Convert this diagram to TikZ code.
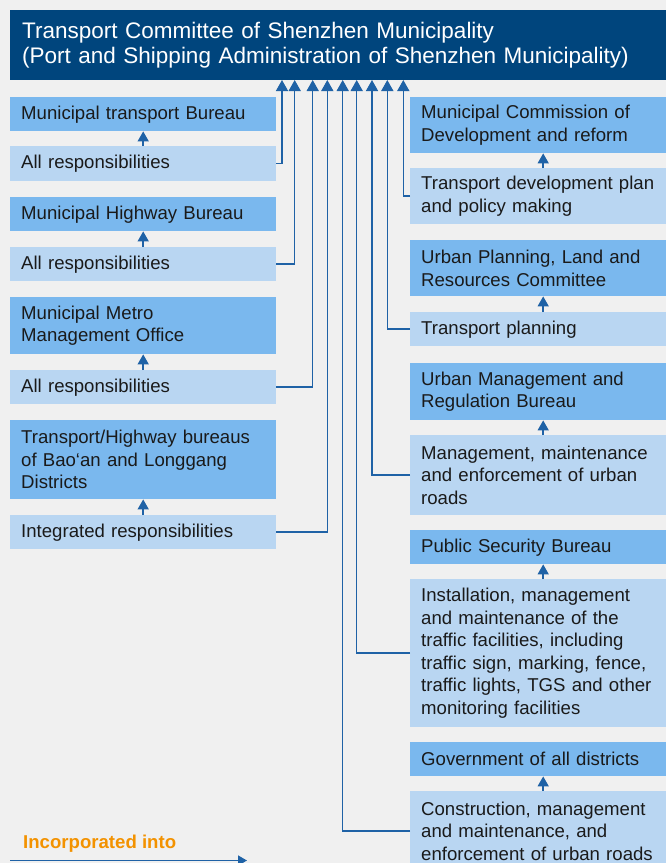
\documentclass[tikz,border=0pt]{standalone}
\usepackage{fontspec}
\setmainfont{Liberation Sans}
\usetikzlibrary{arrows.meta}
\definecolor{bg}{HTML}{F0F0F0}
\definecolor{hdrblue}{HTML}{00457D}
\definecolor{midblue}{HTML}{7AB8EE}
\definecolor{lightblue}{HTML}{B9D6F2}
\definecolor{lineblue}{HTML}{1F62A6}
\definecolor{txt}{HTML}{1A1A1A}
\definecolor{orangetxt}{HTML}{F39200}
\tikzset{
  x=1pt, y=-1pt,
  basebox/.style={anchor=north west, inner xsep=11pt, inner ysep=0pt,
    minimum width=266pt, text width=244pt, align=left, text=txt,
    font=\fontsize{18.6}{22.5}\selectfont},
  orgbox/.style={basebox, fill=midblue},
  dutybox/.style={basebox, fill=lightblue},
  conn/.style={draw=lineblue, line width=1.5pt, -{Triangle[width=12pt,length=11pt]}},
  smallarr/.style={draw=lineblue, line width=1.5pt, -{Triangle[width=11pt,length=10pt]}},
}
\begin{document}
\begin{tikzpicture}
\useasboundingbox (0,0) rectangle (666,863);
\clip (0,0) rectangle (666,863);
\fill[bg] (0,0) rectangle (666,863);
% header
\node[anchor=north west, fill=hdrblue, minimum width=670pt, minimum height=70pt,
  inner xsep=12pt, inner ysep=0pt, text width=646pt, align=left, text=white,
  font=\fontsize{22.5}{25}\selectfont] (hdr) at (10,10)
  {Transport Committee of Shenzhen Municipality\\(Port and Shipping Administration of Shenzhen Municipality)};
% left column
\node[orgbox, minimum height=34pt] (mtb) at (10,97) {Municipal transport Bureau};
\node[dutybox, minimum height=35pt] (ar1) at (10,146) {All responsibilities};
\node[orgbox, minimum height=34pt] (mhb) at (10,197) {Municipal Highway Bureau};
\node[dutybox, minimum height=34pt] (ar2) at (10,247) {All responsibilities};
\node[orgbox, minimum height=57pt] (mmo) at (10,297) {Municipal Metro\\Management Office};
\node[dutybox, minimum height=34pt] (ar3) at (10,370) {All responsibilities};
\node[orgbox, minimum height=79pt] (thb) at (10,420) {Transport/Highway bureaus\\of Bao‘an and Longgang\\Districts};
\node[dutybox, minimum height=34pt] (ir) at (10,515) {Integrated responsibilities};
% right column
\node[orgbox, minimum height=56pt] (mcd) at (410,97) {Municipal Commission of\\Development and reform};
\node[dutybox, minimum height=56pt] (tdp) at (410,168) {Transport development plan\\and policy making};
\node[orgbox, minimum height=56pt] (upl) at (410,240) {Urban Planning, Land and\\Resources Committee};
\node[dutybox, minimum height=34pt] (tp) at (410,312) {Transport planning};
\node[orgbox, minimum height=57pt] (umr) at (410,363) {Urban Management and\\Regulation Bureau};
\node[dutybox, minimum height=80pt] (mme) at (410,435) {Management, maintenance\\and enforcement of urban\\roads};
\node[orgbox, minimum height=34pt] (psb) at (410,530) {Public Security Bureau};
\node[dutybox, minimum height=148pt] (inst) at (410,579) {Installation, management\\and maintenance of the\\traffic facilities, including\\traffic sign, marking, fence,\\traffic lights, TGS and other\\monitoring facilities};
\node[orgbox, minimum height=34pt] (gov) at (410,742) {Government of all districts};
\node[dutybox, minimum height=80pt] (cons) at (410,791) {Construction, management\\and maintenance, and\\enforcement of urban roads};
% small arrows
\draw[smallarr] (ar1.north) -- (mtb.south);
\draw[smallarr] (ar2.north) -- (mhb.south);
\draw[smallarr] (ar3.north) -- (mmo.south);
\draw[smallarr] (ir.north) -- (thb.south);
\draw[smallarr] (tdp.north) -- (mcd.south);
\draw[smallarr] (tp.north) -- (upl.south);
\draw[smallarr] (mme.north) -- (umr.south);
\draw[smallarr] (inst.north) -- (psb.south);
\draw[smallarr] (cons.north) -- (gov.south);
% top targets
\coordinate (t1) at (282,80);
\coordinate (t2) at (294.7,80);
\coordinate (t3) at (312.7,80);
\coordinate (t4) at (327.3,80);
\coordinate (t5) at (342.7,80);
\coordinate (t6) at (356.7,80);
\coordinate (t7) at (372,80);
\coordinate (t8) at (387.3,80);
\coordinate (t9) at (403.3,80);
\draw[conn] (ar1.east) -| (t1);
\draw[conn] (ar2.east) -| (t2);
\draw[conn] (ar3.east) -| (t3);
\draw[conn] (ir.east) -| (t4);
\draw[conn] (cons.west) -| (t5);
\draw[conn] (inst.west) -| (t6);
\draw[conn] (mme.west) -| (t7);
\draw[conn] (tp.west) -| (t8);
\draw[conn] (tdp.west) -| (t9);
% legend
\node[anchor=west, inner sep=0pt, text=orangetxt, font=\bfseries\fontsize{18.6}{22}\selectfont] (leg) at (23,844) {Incorporated into};
\coordinate (ls) at (10,860.5);
\coordinate (le) at (247,860.5);
\draw[conn, -{Triangle[width=10pt,length=9pt]}] (ls) -- (le);
\end{tikzpicture}
\end{document}
